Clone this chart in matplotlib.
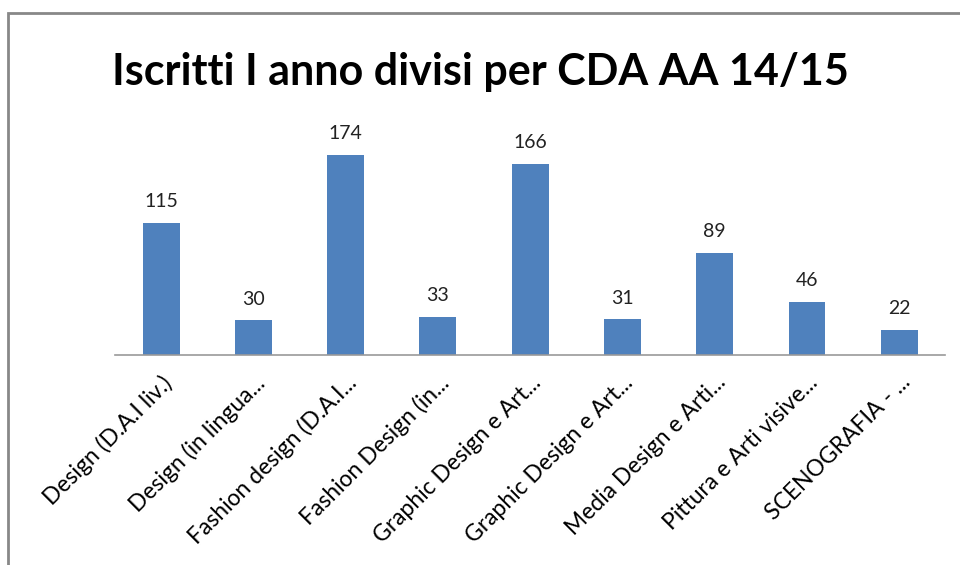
import matplotlib.pyplot as plt
from matplotlib.patches import Rectangle

# dati del grafico
corsi = ["Design (D.A.I liv.)", "Design (in lingua...", "Fashion design (D.A.I...",
         "Fashion Design (in...", "Graphic Design e Art...", "Graphic Design e Art...",
         "Media Design e Arti...", "Pittura e Arti visive...", "SCENOGRAFIA - ..."]
iscritti = [115, 30, 174, 33, 166, 31, 89, 46, 22]

plt.rcParams['font.family'] = ['Lato', 'DejaVu Sans']

fig = plt.figure(figsize=(9.6, 5.65), dpi=100)
ax = fig.add_axes([0.1198, 0.3717, 0.865, 0.407])

x = list(range(len(corsi)))
ax.bar(x, iscritti, width=0.4, color='#4F81BD')
for i in x:
    ax.text(i, iscritti[i] + 11, str(iscritti[i]), ha='center', va='bottom',
            fontsize=14, color='#222222', clip_on=False)

ax.set_xlim(-0.5, len(corsi) - 0.5)
ax.set_ylim(0, 200)
ax.set_yticks([])
ax.set_xticks(x)
ax.set_xticklabels(corsi, rotation=45, ha='right', rotation_mode='anchor', fontsize=16.5)
ax.tick_params(axis='x', length=0, pad=12)
for s in ['top', 'right', 'left']:
    ax.spines[s].set_visible(False)
ax.spines['bottom'].set_color('#999999')
ax.spines['bottom'].set_linewidth(1.2)

fig.text(0.5, 0.873, "Iscritti I anno divisi per CDA AA 14/15", ha='center', va='center',
         fontsize=31, fontweight='bold')

# cornice del grafico
fig.patches.append(Rectangle((8/960, -0.1), 1.2, (565-13)/565 + 0.1, transform=fig.transFigure,
                             fill=False, edgecolor='#888888', linewidth=2))

fig.savefig('out.png', dpi=100)
